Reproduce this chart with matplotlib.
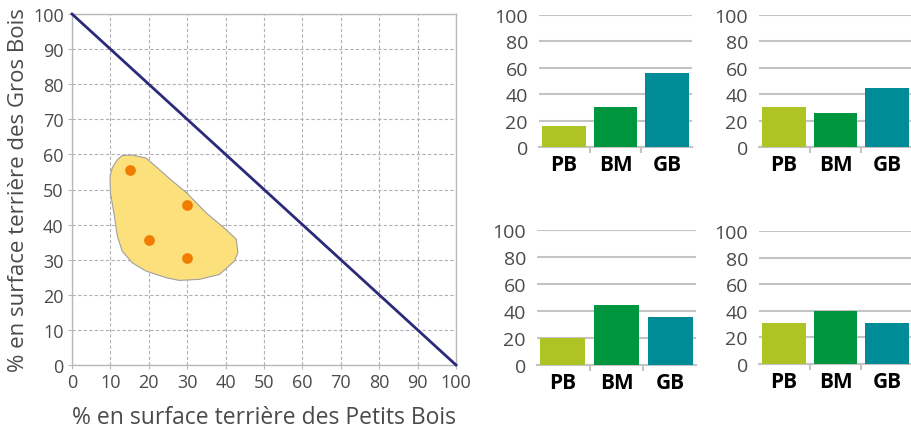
import numpy as np
import matplotlib.pyplot as plt

plt.rcParams['font.family'] = ['Open Sans', 'DejaVu Sans']

# donnees
pts_pb = [15, 30, 20, 30]
pts_gb = [55.5, 45.5, 35.5, 30.5]

blob_x = [13.1, 15.7, 19.2, 21.8, 25.5, 29.7, 34.9, 40.1, 42.8, 43.2, 42.3, 38.4,
          33.2, 27.9, 24.4, 19.2, 15.7, 13.1, 11.8, 10.9, 10.0, 9.9, 10.5, 11.8]
blob_y = [59.7, 59.8, 59.0, 56.6, 53.0, 49.2, 43.4, 38.6, 35.8, 32.0, 29.6, 25.8,
          24.4, 24.1, 24.9, 26.8, 29.1, 32.4, 36.7, 43.4, 49.0, 53.8, 56.2, 58.5]

categories = ['PB', 'BM', 'GB']
bars_tl = [16, 30, 56]
bars_tr = [30, 25.5, 44.5]
bars_bl = [20, 44.5, 35.5]
bars_br = [31, 40, 31]

bar_colors = ['#AEC424', '#00963F', '#008C96']
txt = '#4A4A4A'

W, H = 912, 431
fig = plt.figure(figsize=(W / 100, H / 100), dpi=100)

def px_axes(l, r, t, b):
    return fig.add_axes([l / W, 1 - b / H, (r - l) / W, (b - t) / H])

###############
# graphe main #
###############
ax = px_axes(72, 456, 15, 366)
ax.set_xlim(0, 100)
ax.set_ylim(0, 100)
ax.set_xticks(range(0, 101, 10))
ax.set_yticks(range(0, 101, 10))
ax.grid(True, linestyle=(0, (3, 2)), color='#B0B0B8', linewidth=0.8)
ax.set_axisbelow(True)
for s in ax.spines.values():
    s.set_color('#B8B8B8')
    s.set_linewidth(1)
ax.tick_params(length=3, color='#B8B8B8', labelsize=13, labelcolor=txt, pad=3)
ax.fill(blob_x, blob_y, facecolor='#FCE07C', edgecolor='#A0A0A0', linewidth=0.8, zorder=2)
ax.plot([0, 100], [100, 0], color='#2B2A7A', linewidth=2, zorder=3, clip_on=False)
ax.scatter(pts_pb, pts_gb, s=45, color='#F07D00', zorder=4)
ax.set_xlabel('% en surface terrière des Petits Bois', fontsize=16.5, color=txt, labelpad=10)
ax.set_ylabel('% en surface terrière des Gros Bois', fontsize=16, color=txt, labelpad=3)

##################
# petits graphes #
##################
def bar_panel(l, r, t, b, vals):
    a = px_axes(l, r, t, b)
    x = np.arange(len(vals))
    a.bar(x, vals, width=0.84, color=bar_colors, zorder=3)
    a.set_xlim(-0.48, 2.48)
    a.set_ylim(0, 100)
    a.set_yticks(range(0, 101, 20))
    a.yaxis.grid(True, color='#C4C4C4', linewidth=1.5)
    a.set_axisbelow(True)
    for k in ['top', 'right', 'left']:
        a.spines[k].set_visible(False)
    a.spines['bottom'].set_color('#C4C4C4')
    a.spines['bottom'].set_linewidth(1.5)
    a.tick_params(axis='y', length=0, labelsize=14, labelcolor=txt, pad=8)
    a.set_xticks([0.5, 1.5], minor=True)
    a.tick_params(axis='x', which='minor', length=4, color='#C4C4C4', width=1.5)
    a.set_xticks(x)
    a.set_xticklabels(categories, fontweight='bold', fontsize=15, color='black')
    a.tick_params(axis='x', which='major', length=0, pad=5)
    return a

bar_panel(539, 692, 16, 148, bars_tl)
bar_panel(759, 912, 16, 148, bars_tr)
bar_panel(537, 696, 231, 366, bars_bl)
bar_panel(759, 912, 232, 365, bars_br)

fig.savefig('out.png', dpi=100)
